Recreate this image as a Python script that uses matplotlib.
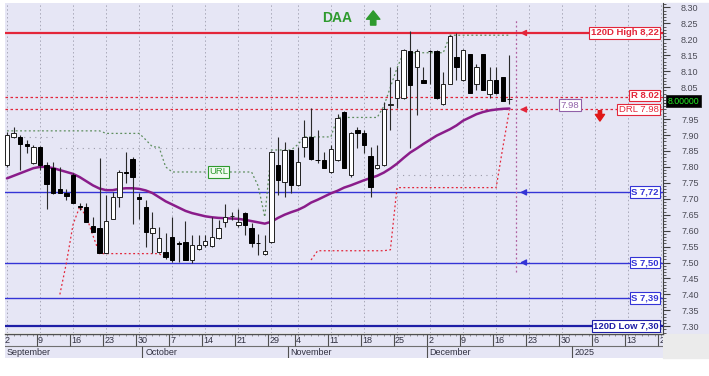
import numpy as np
import matplotlib
matplotlib.use("Agg")
import matplotlib.pyplot as plt
import matplotlib.transforms as mtransforms
from matplotlib.patches import Rectangle

plt.rcParams['font.family'] = ['Liberation Sans', 'DejaVu Sans']

# daily candles, index 0 = 2 Sep 2024 ... index 76 = 18 Dec 2024
opens = [7.805, 7.895, 7.895, 7.873, 7.813, 7.863, 7.805, 7.795, 7.732, 7.717,
         7.776, 7.676, 7.675, 7.614, 7.607, 7.530, 7.635, 7.706, 7.785, 7.826,
         7.705, 7.675, 7.593, 7.534, 7.534, 7.579, 7.560, 7.565, 7.508, 7.544,
         7.555, 7.551, 7.576, 7.628, 7.645, 7.617, 7.654, 7.607, 7.561, 7.527,
         7.565, 7.805, 7.753, 7.853, 7.743, 7.863, 7.894, 7.823, 7.823, 7.785,
         7.823, 7.973, 7.776, 7.915, 7.905, 7.834, 7.795, 7.805, 7.995, 8.015,
         8.015, 8.162, 8.114, 8.072, 8.165, 8.162, 7.996, 8.061, 8.145, 8.072,
         8.154, 8.061, 8.154, 8.030, 8.074, 8.082, 8.012]
highs = [7.910, 7.925, 7.900, 7.884, 7.870, 7.865, 7.816, 7.816, 7.800, 7.732,
         7.781, 7.686, 7.686, 7.643, 7.829, 7.711, 7.722, 7.790, 7.848, 7.830,
         7.717, 7.696, 7.659, 7.612, 7.593, 7.643, 7.568, 7.631, 7.585, 7.585,
         7.585, 7.643, 7.633, 7.685, 7.659, 7.667, 7.659, 7.623, 7.591, 7.586,
         7.850, 7.894, 7.878, 7.853, 7.863, 7.946, 7.985, 7.915, 7.848, 7.868,
         7.967, 7.975, 7.910, 7.925, 7.915, 7.863, 7.870, 8.005, 8.114, 8.114,
         8.170, 8.225, 8.170, 8.114, 8.168, 8.166, 8.098, 8.215, 8.220, 8.170,
         8.155, 8.124, 8.155, 8.114, 8.114, 8.083, 8.150]
lows = [7.800, 7.890, 7.790, 7.843, 7.810, 7.790, 7.667, 7.715, 7.717, 7.696,
        7.686, 7.665, 7.628, 7.596, 7.529, 7.529, 7.635, 7.675, 7.749, 7.620,
        7.638, 7.548, 7.529, 7.529, 7.510, 7.502, 7.502, 7.508, 7.497, 7.539,
        7.549, 7.549, 7.574, 7.612, 7.633, 7.612, 7.586, 7.549, 7.523, 7.523,
        7.560, 7.711, 7.706, 7.717, 7.740, 7.832, 7.821, 7.813, 7.795, 7.781,
        7.820, 7.795, 7.769, 7.858, 7.842, 7.706, 7.793, 7.803, 7.915, 7.985,
        8.012, 7.858, 7.964, 8.062, 8.061, 8.012, 7.994, 8.060, 8.072, 8.070,
        8.033, 8.040, 8.040, 8.015, 8.030, 8.006, 7.996]
closes = [7.900, 7.905, 7.873, 7.866, 7.863, 7.805, 7.745, 7.719, 7.719, 7.708,
          7.686, 7.674, 7.628, 7.596, 7.529, 7.631, 7.706, 7.785, 7.780, 7.769,
          7.700, 7.596, 7.607, 7.576, 7.518, 7.508, 7.558, 7.508, 7.555, 7.555,
          7.568, 7.579, 7.607, 7.643, 7.646, 7.628, 7.617, 7.560, 7.560, 7.536,
          7.848, 7.758, 7.853, 7.743, 7.816, 7.894, 7.826, 7.821, 7.798, 7.856,
          7.952, 7.798, 7.905, 7.907, 7.868, 7.738, 7.805, 7.980, 7.997, 8.072,
          8.166, 8.056, 8.162, 8.064, 8.163, 8.015, 8.061, 8.210, 8.114, 8.166,
          8.033, 8.114, 8.040, 8.074, 8.033, 8.006, 8.014]

# moving average (purple)
ma = [7.764, 7.772, 7.780, 7.788, 7.796, 7.800, 7.800, 7.796, 7.790, 7.784,
      7.778, 7.768, 7.755, 7.742, 7.732, 7.727, 7.727, 7.731, 7.733, 7.733,
      7.731, 7.726, 7.718, 7.705, 7.692, 7.682, 7.672, 7.662, 7.655, 7.650,
      7.645, 7.642, 7.640, 7.639, 7.638, 7.637, 7.634, 7.630, 7.626, 7.622,
      7.628, 7.640, 7.650, 7.658, 7.665, 7.675, 7.688, 7.697, 7.707, 7.717,
      7.725, 7.735, 7.742, 7.750, 7.758, 7.765, 7.772, 7.782, 7.795, 7.810,
      7.828, 7.845, 7.858, 7.872, 7.885, 7.898, 7.908, 7.918, 7.930, 7.945,
      7.955, 7.965, 7.972, 7.977, 7.980, 7.982, 7.983]

nan = np.nan
# upper trailing line (URL, green dotted)
url_line = [7.913, 7.913, 7.913, 7.913, 7.913, 7.913, 7.913, 7.913, 7.913, 7.913,
            7.913, 7.913, 7.913, 7.913, 7.913, 7.905, 7.905, 7.905, 7.905, 7.905,
            7.905, 7.885, 7.863, 7.862, 7.800, 7.784, 7.784, 7.784, 7.784, 7.784,
            7.784, 7.784, 7.784, 7.784, 7.784, 7.784, 7.784, 7.784, 7.740, 7.643,
            7.853, 7.853, 7.853, 7.853, 7.870, 7.894, 7.894, 7.894, 7.894, 7.894,
            7.955, 7.955, 7.955, 7.955, 7.955, 7.955, 7.955, 7.990, 8.050, 8.110,
            8.158, 8.158, 8.158, 8.158, 8.158, 8.158, 8.158, 8.213, 8.213, 8.213,
            8.213, 8.213, 8.213, 8.213, 8.213, 8.213, 8.213]
# lower trailing line (DRL, red dotted)
drl_line = [nan, nan, nan, nan, nan, nan, nan, nan, 7.400, 7.500,
            7.620, 7.675, 7.645, 7.585, 7.528, 7.528, 7.528, 7.528, 7.528, 7.528,
            7.528, 7.528, 7.528, 7.528, 7.514, nan, nan, nan, nan, nan,
            nan, nan, nan, nan, nan, nan, nan, nan, nan, nan,
            nan, nan, nan, nan, nan, nan, 7.508, 7.537, 7.537, 7.537,
            7.537, 7.537, 7.537, 7.537, 7.537, 7.537, 7.537, 7.537, 7.540, 7.735,
            7.735, 7.735, 7.735, 7.735, 7.735, 7.735, 7.735, 7.735, 7.735, 7.735,
            7.735, 7.735, 7.735, 7.735, 7.735, 7.860, 7.978]
# faint grey dotted segments (start idx, end idx, level)
grey_segs = [(0, 7, 7.893), (8, 40, 7.859), (59, 74, 7.774)]

high_120 = 8.22
low_120 = 7.30
resist = 8.02
drl = 7.98
supports = [7.72, 7.50, 7.39]
last_price = 8.00

week_idx = [0, 5, 10, 15, 20, 25, 30, 35, 40, 44, 49, 54, 59, 64, 69, 74, 79, 84, 89, 94, 99]
week_lbl = ['2', '9', '16', '23', '30', '7', '14', '21', '29', '4', '11', '18', '25',
            '2', '9', '16', '23', '30', '6', '13', '20']
month_idx = [0, 21, 43, 64, 86]
month_lbl = ['September', 'October', 'November', 'December', '2025']

bg = '#E6E6F5'
red = '#E3263A'
blue = '#3434D6'
navy = '#1E1EA6'
purple = '#8A1C8A'
green = '#2E9A2E'

W, H = 709, 376
fig = plt.figure(figsize=(W / 100, H / 100), dpi=100)
fig.patch.set_facecolor('white')
# price-scale column background (behind the axes)
fig.patches.append(Rectangle((663 / W, 1 - 334 / H), 46 / W, 331 / H,
                             transform=fig.transFigure, color=bg, zorder=-5))
fig.patches.append(Rectangle((663 / W, 1 - 358 / H), 46 / W, 24 / H,
                             transform=fig.transFigure, color='#EBEBEB', zorder=-5))

ax = fig.add_axes([5 / W, 1 - 333 / H, 658 / W, 330 / H])
ax.set_facecolor(bg)
xlim = (-0.3, 99.24)
ax.set_xlim(*xlim)
ax.set_ylim(7.279, 8.314)

for s in ['top', 'left', 'bottom']:
    ax.spines[s].set_visible(False)
ax.spines['right'].set_color('#404040')
ax.spines['right'].set_linewidth(0.8)
ax.yaxis.tick_right()
ax.set_yticks(np.arange(7.30, 8.301, 0.05))
ax.set_yticks(np.arange(7.28, 8.311, 0.01), minor=True)
# the 8.00 slot is taken by the last-price box
ax.yaxis.set_major_formatter(matplotlib.ticker.FuncFormatter(
    lambda v, p: '' if abs(v - last_price) < 1e-6 else '%.2f' % v))
ax.tick_params(axis='y', which='major', length=5, width=0.8, color='#404040',
               labelsize=6.5, labelcolor='#4A4A55', pad=8)
ax.tick_params(axis='y', which='minor', length=2.5, width=0.6, color='#404040')
ax.set_xticks([])

# week grid
for wi in week_idx:
    ax.axvline(wi, color='#A8A8B8', lw=0.7, ls=(0, (1.5, 2.5)), zorder=1)

# grey dotted segments
for a, b, lv in grey_segs:
    ax.hlines(lv, a, b, color='#9A9AA8', lw=0.8, ls=(0, (1, 4)), zorder=2)

x = np.arange(len(opens))
o = np.array(opens)
c = np.array(closes)
up = c >= o

# level lines
ax.axhline(high_120, color=red, lw=1.6, zorder=2)
ax.axhline(resist, color=red, lw=0.9, ls=(0, (2, 2)), zorder=2)
ax.axhline(drl, color=red, lw=0.9, ls=(0, (2, 2)), zorder=2)
for s in supports:
    ax.axhline(s, color=blue, lw=1.0, zorder=2)
ax.axhline(low_120, color=navy, lw=1.6, zorder=2)

# trailing lines and MA
ax.plot(x, url_line, color='#5E8E5E', lw=0.9, ls=(0, (1.5, 2)), zorder=3)
ax.plot(x, drl_line, color=red, lw=0.9, ls=(0, (1.5, 2)), zorder=3)
ax.plot(x, ma, color=purple, lw=1.8, zorder=5, solid_capstyle='round')

# candles
ax.vlines(x, lows, highs, color='#2A2A2A', lw=0.8, zorder=6)
lo_b = np.minimum(o, c)
h_b = np.abs(c - o)
ax.bar(x[up], h_b[up], bottom=lo_b[up], width=0.66, color='white',
       edgecolor='#202020', lw=0.7, zorder=7)
ax.bar(x[~up], h_b[~up], bottom=lo_b[~up], width=0.66, color='black',
       edgecolor='black', lw=0.7, zorder=7)

# vertical marker after last bar
ax.vlines(len(opens), 7.47, 8.26, color='#B060A0', lw=0.9, ls=(0, (1.5, 2)), zorder=4)

# small arrows pointing at levels
for lv, col in [(high_120, red), (drl, red), (supports[0], blue), (supports[1], blue)]:
    ax.annotate('', xy=(77.2, lv), xytext=(78.9, lv),
                arrowprops=dict(arrowstyle='-|>,head_length=0.35,head_width=0.18',
                                color=col, lw=1.0), zorder=8)

# level labels
def lbl(xv, yv, s, col, bold=True, fc='white', ha='right'):
    ax.text(xv, yv, s, color=col, fontsize=6.8, ha=ha, va='center',
            fontweight='bold' if bold else 'normal', zorder=9,
            bbox=dict(boxstyle='square,pad=0.15', fc=fc, ec=col, lw=0.8))

lbl(98.6, high_120, '120D High 8,22', red)
lbl(98.6, resist + 0.004, 'R 8.02', red)
lbl(98.6, drl, 'DRL 7.98', red, bold=False)
lbl(98.6, supports[0], 'S 7,72', blue)
lbl(98.6, supports[1], 'S 7,50', blue)
lbl(98.6, supports[2], 'S 7,39', blue)
lbl(98.6, low_120, '120D Low 7,30', navy)
lbl(85.2, 7.993, '7.98', '#9060A8', bold=False, ha='center')
lbl(32.0, 7.784, 'URL', green, bold=False, fc='#F2FBF2', ha='center')

# red down arrow
ax.annotate('', xy=(89.7, 7.935), xytext=(89.7, 7.985),
            arrowprops=dict(arrowstyle='simple,head_length=0.4,head_width=0.55,tail_width=0.2',
                            color='#E01818', mutation_scale=12), zorder=8)

# DAA title with green up arrow
ax.text(50.0, 8.267, 'DAA', color=green, fontsize=10, fontweight='bold',
        ha='center', va='center', zorder=9)
ax.annotate('', xy=(55.4, 8.298), xytext=(55.4, 8.236),
            arrowprops=dict(arrowstyle='simple,head_length=0.5,head_width=0.8,tail_width=0.32',
                            color=green, mutation_scale=12), zorder=9)

# last price on the scale
tr = mtransforms.blended_transform_factory(ax.transAxes, ax.transData)
ax.text(1.007, last_price + 0.006, '8.00000', transform=tr, color='#22EE22',
        fontsize=6.3, ha='left', va='center', zorder=9, clip_on=False,
        bbox=dict(boxstyle='square,pad=0.15', fc='black', ec='#202020', lw=0.6))

# date band
axd = fig.add_axes([5 / W, 1 - 358 / H, 658 / W, 24 / H])
axd.set_xlim(*xlim)
axd.set_ylim(0, 2)
axd.set_facecolor(bg)
axd.set_xticks([])
axd.set_yticks([])
for s in ['left', 'right', 'bottom']:
    axd.spines[s].set_visible(False)
axd.spines['top'].set_color('#505050')
axd.spines['top'].set_linewidth(1.0)
axd.axhline(1.0, color='#707070', lw=0.8)
axd.vlines(np.arange(0, 100), 1.82, 2.0, color='#707070', lw=0.5)
for wi, wl in zip(week_idx, week_lbl):
    axd.vlines(wi - 0.5, 1.0, 2.0, color='#505050', lw=0.8)
    axd.text(wi - 0.3, 1.45, wl, fontsize=6.5, color='#303040', ha='left',
             va='center', clip_on=True)
for mi, ml in zip(month_idx, month_lbl):
    if mi > 0:
        axd.vlines(mi - 0.5, 0.0, 1.0, color='#505050', lw=0.8)
    axd.text(mi - 0.1, 0.48, ml, fontsize=6.5, color='#303040', ha='left',
             va='center', clip_on=True)

fig.savefig('out.png', dpi=100, facecolor='white')
